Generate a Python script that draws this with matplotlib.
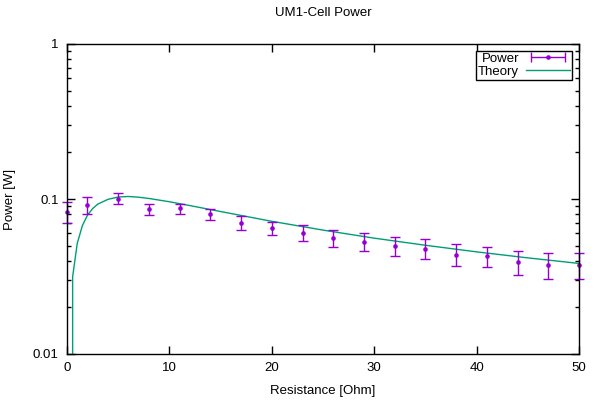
import numpy as np
import matplotlib
matplotlib.use("Agg")
import matplotlib.pyplot as plt
from matplotlib.ticker import LogLocator, FixedLocator, NullFormatter, FixedFormatter
from matplotlib.legend_handler import HandlerErrorbar

plt.rcParams['font.family'] = ['Liberation Sans', 'DejaVu Sans']
plt.rcParams['font.size'] = 9.5

# measured data
resistance = [0, 2, 5, 8, 11, 14, 17, 20, 23, 26, 29, 32, 35, 38, 41, 44, 47, 50]
power = [0.082, 0.0914, 0.1006, 0.0858, 0.0875, 0.0802, 0.070, 0.0647, 0.0601,
         0.0557, 0.0525, 0.0495, 0.0473, 0.0433, 0.0427, 0.0391, 0.0373, 0.0375]
power_lo = [0.070, 0.0802, 0.093, 0.0785, 0.0798, 0.0731, 0.0633, 0.0584, 0.0535,
            0.0487, 0.0460, 0.0430, 0.0410, 0.0370, 0.0362, 0.0323, 0.0303, 0.0304]
power_hi = [0.0956, 0.1026, 0.1099, 0.0928, 0.093, 0.0868, 0.0773, 0.0714, 0.0678,
            0.0630, 0.0600, 0.0572, 0.0555, 0.0511, 0.0493, 0.0462, 0.0447, 0.0447]

# theory curve
theory_r = [0.55, 0.55, 1.0, 1.5, 2, 2.5, 3, 4, 5, 6, 7, 8, 10, 12, 15, 20, 25,
            30, 35, 40, 45, 50]
theory_p = [0.005, 0.0315, 0.0517, 0.0673, 0.0786, 0.0867, 0.0926, 0.0995, 0.1030,
            0.1038, 0.1027, 0.1008, 0.0960, 0.0907, 0.0830, 0.0718, 0.0630, 0.0559,
            0.0503, 0.0456, 0.0417, 0.0384]

purple = '#9400d3'
green = '#009e73'

fig = plt.figure(figsize=(6, 4), dpi=100)
ax = fig.add_axes([67/600, 1-354/400, (579-67)/600, (354-44)/400])

p = np.array(power)
yerr = [p - np.array(power_lo), np.array(power_hi) - p]
eb = ax.errorbar(resistance, power, yerr=yerr, fmt='o', color=purple, ms=3.3,
                 elinewidth=1, capsize=3.5, capthick=1, clip_on=False, zorder=3)
eb[0].set_markeredgewidth(0)
theory, = ax.plot(theory_r, theory_p, color=green, lw=1, zorder=2)

# legend proxy: horizontal bar with caps, like gnuplot's key sample
proxy = ax.errorbar([np.nan], [np.nan], xerr=[1], fmt='o', color=purple, ms=3.3,
                    elinewidth=1, capsize=3.5, capthick=1)
proxy[0].set_markeredgewidth(0)

ax.set_yscale('log')
ax.set_xlim(0, 50)
ax.set_ylim(0.01, 1)
ax.xaxis.set_major_locator(FixedLocator([0, 10, 20, 30, 40, 50]))
ax.yaxis.set_major_locator(FixedLocator([0.01, 0.1, 1]))
ax.yaxis.set_major_formatter(FixedFormatter(['0.01', '0.1', '1']))
ax.yaxis.set_minor_locator(LogLocator(base=10, subs=np.arange(2, 10)))
ax.yaxis.set_minor_formatter(NullFormatter())
ax.tick_params(which='both', direction='in', top=True, right=True, width=1)
ax.tick_params(which='major', length=6, pad=6)
ax.tick_params(which='minor', length=3)
for s in ax.spines.values():
    s.set_linewidth(1)
    s.set_zorder(4)

ax.set_title('UM1-Cell Power', fontsize=9.5, pad=20)
ax.set_xlabel('Resistance [Ohm]', labelpad=8)
ax.set_ylabel('Power [W]', labelpad=12)

leg = ax.legend([proxy, theory], ['Power', 'Theory'], loc='upper right',
                markerfirst=False, fancybox=False, framealpha=1, numpoints=1,
                edgecolor='black', handlelength=3.4, borderpad=0.15, labelspacing=0.05,
                handletextpad=0.5, borderaxespad=0.5,
                handler_map={proxy: HandlerErrorbar(xerr_size=1.3)})
leg.get_frame().set_linewidth(1)

fig.savefig('out.png', dpi=100)
